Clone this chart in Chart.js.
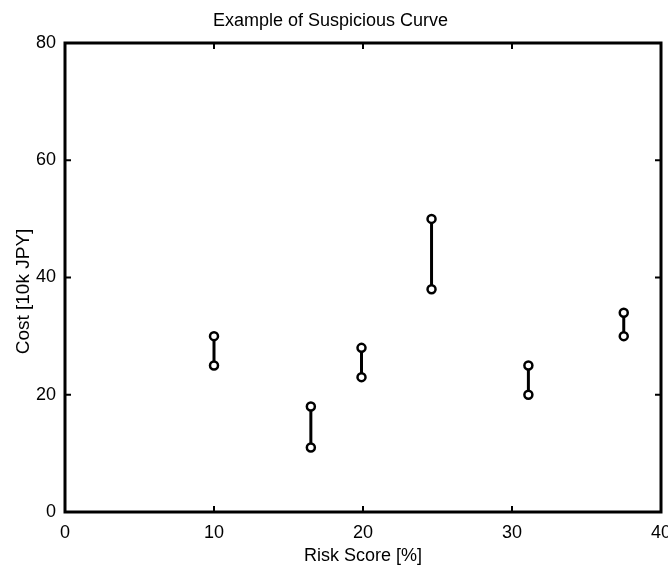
<!DOCTYPE html>
<html>
<head>
<meta charset="utf-8">
<script src="https://cdn.jsdelivr.net/npm/chart.js@4"></script>
<style>
  html, body { margin: 0; padding: 0; background: #fff; }
  #wrap { width: 668px; height: 568px; }
</style>
</head>
<body>
<div id="wrap"><canvas id="myChart" width="668" height="568"></canvas></div>
<script>
// values
var riskScores = [10, 16.5, 19.9, 24.6, 31.1, 37.5];
var costHigh = [30, 18, 28, 50, 25, 34];
var costLow = [25, 11, 23, 38, 20, 30];
var xTicks = [0, 10, 20, 30, 40];
var yTicks = [0, 20, 40, 60, 80];

var FONT = "'Liberation Sans', Arial, Helvetica, sans-serif";

// one small line per pair
var datasets = riskScores.map(function (x, i) {
    return {
        label: "pair " + (i + 1),
        data: [{ x: x, y: costLow[i] }, { x: x, y: costHigh[i] }],
        showLine: true,
        borderColor: "#000",
        borderWidth: 3,
        pointRadius: 4,
        pointBorderWidth: 2.5,
        pointBackgroundColor: "#fff",
        pointBorderColor: "#000",
    };
});

// matlab style box with inward ticks, plus the y label (sits a bit low in the original)
var boxPlugin = {
    id: "box",
    afterDraw: function (chart) {
        var ctx = chart.ctx;
        var a = chart.chartArea;
        var xs = chart.scales.x;
        var ys = chart.scales.y;
        var len = 6;
        ctx.save();
        ctx.strokeStyle = "#000";
        ctx.lineWidth = 2;
        ctx.beginPath();
        xTicks.forEach(function (v) {
            var px = xs.getPixelForValue(v);
            ctx.moveTo(px, a.bottom);
            ctx.lineTo(px, a.bottom - len);
            ctx.moveTo(px, a.top);
            ctx.lineTo(px, a.top + len);
        });
        yTicks.forEach(function (v) {
            var py = ys.getPixelForValue(v);
            ctx.moveTo(a.left, py);
            ctx.lineTo(a.left + len, py);
            ctx.moveTo(a.right, py);
            ctx.lineTo(a.right - len, py);
        });
        ctx.stroke();
        ctx.lineWidth = 3;
        ctx.strokeRect(a.left, a.top, a.right - a.left, a.bottom - a.top);

        ctx.translate(24, (a.top + a.bottom) / 2 + 14);
        ctx.rotate(-Math.PI / 2);
        ctx.fillStyle = "#000";
        ctx.font = "19px " + FONT;
        ctx.textAlign = "center";
        ctx.textBaseline = "middle";
        ctx.fillText("Cost [10k JPY]", 0, 0);
        ctx.restore();
    },
};

var ctx = document.getElementById("myChart").getContext("2d");
var myChart = new Chart(ctx, {
    type: "scatter",
    data: { datasets: datasets },
    options: {
        responsive: false,
        animation: false,
        layout: { padding: { left: 0, right: 7, top: 0, bottom: 0 } },
        plugins: {
            legend: { display: false },
            tooltip: { enabled: false },
            title: {
                display: true,
                text: "Example of Suspicious Curve",
                color: "#000",
                font: { family: FONT, size: 18, weight: "normal", lineHeight: 1.2 },
                padding: { top: 10, bottom: 11.4 },
            },
        },
        scales: {
            x: {
                type: "linear",
                min: 0,
                max: 40,
                afterBuildTicks: function (s) {
                    s.ticks = xTicks.map(function (v) { return { value: v }; });
                },
                afterFit: function (s) {
                    s.height = 56;
                    s.paddingLeft = 0;
                    s.paddingRight = 0;
                },
                grid: { display: false, drawTicks: false },
                border: { display: false },
                ticks: {
                    color: "#000",
                    padding: 10,
                    font: { family: FONT, size: 18 },
                },
                title: {
                    display: true,
                    text: "Risk Score [%]",
                    color: "#000",
                    font: { family: FONT, size: 18 },
                    padding: { top: 0, bottom: 1 },
                },
            },
            y: {
                type: "linear",
                min: 0,
                max: 80,
                afterBuildTicks: function (s) {
                    s.ticks = yTicks.map(function (v) { return { value: v }; });
                },
                afterFit: function (s) {
                    s.width = 65;
                    s.paddingTop = 0;
                    s.paddingBottom = 0;
                },
                grid: { display: false, drawTicks: false },
                border: { display: false },
                ticks: {
                    color: "#000",
                    padding: 9,
                    font: { family: FONT, size: 18 },
                },
            },
        },
    },
    plugins: [boxPlugin],
});
</script>
</body>
</html>
